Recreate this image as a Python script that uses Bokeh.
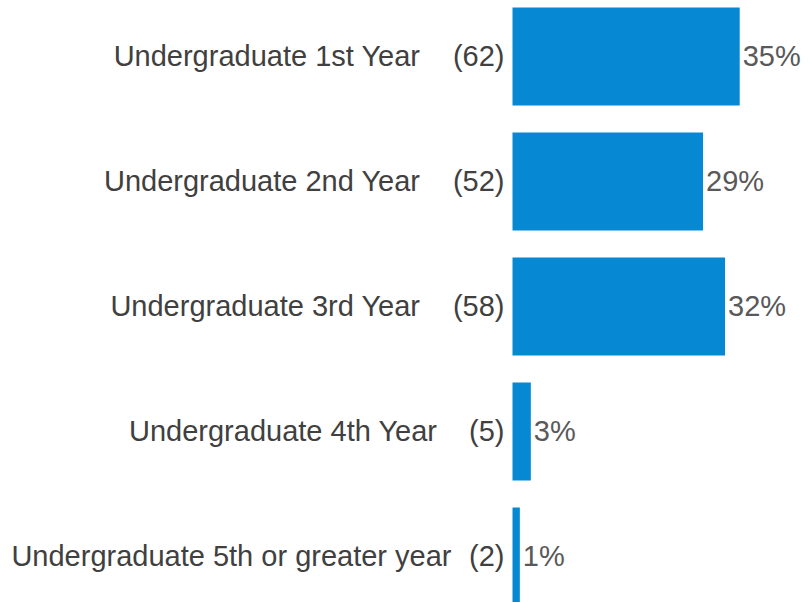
from bokeh.plotting import figure
from bokeh.models import ColumnDataSource, Range1d
from bokeh.core.properties import value
from bokeh.embed import file_html
from bokeh.resources import INLINE

categories = ["Undergraduate 1st Year", "Undergraduate 2nd Year", "Undergraduate 3rd Year",
              "Undergraduate 4th Year", "Undergraduate 5th or greater year"]
counts = [62, 52, 58, 5, 2]
pct_labels = ["35%", "29%", "32%", "3%", "1%"]

total = sum(counts)
shares = [c / total * 100 for c in counts]
rows = list(range(len(categories)))
count_labels = ["(%d)" % c for c in counts]
name_offsets = [-92, -92, -92, -75, -61]

src = ColumnDataSource(dict(y=rows, share=shares, name=categories, cnt=count_labels,
                            pct=pct_labels, zero=[0] * len(rows), noff=name_offsets))

W, H = 810, 602
scale = 6.56
x0px = 512
pitch = 125.0
top = -56 / pitch

p = figure(width=W, height=H, output_backend="svg", toolbar_location=None,
           x_range=Range1d(-x0px / scale, (W - x0px) / scale),
           y_range=Range1d(top + H / pitch, top),
           min_border=0, min_border_left=0, min_border_right=0,
           min_border_top=0, min_border_bottom=0)
p.axis.visible = False
p.grid.visible = False
p.outline_line_color = None
p.background_fill_color = "white"
p.border_fill_color = "white"

p.hbar(y="y", left=0, right="share", height=0.784, source=src,
       fill_color="#0788D3", line_color=None)

font = value("Liberation Sans")
p.text(x="zero", y="y", text="cnt", source=src, text_align="right", text_baseline="middle",
       x_offset=-8, y_offset=-1, text_font=font, text_font_size="29px", text_color="#404040")
p.text(x="zero", y="y", text="name", source=src, text_align="right", text_baseline="middle",
       x_offset="noff", y_offset=-1, text_font=font, text_font_size="29px", text_color="#404040")
p.text(x="share", y="y", text="pct", source=src, text_align="left", text_baseline="middle",
       x_offset=3, y_offset=-1, text_font=font, text_font_size="29px", text_color="#595959")

open("out.html", "w").write(file_html(p, INLINE))
